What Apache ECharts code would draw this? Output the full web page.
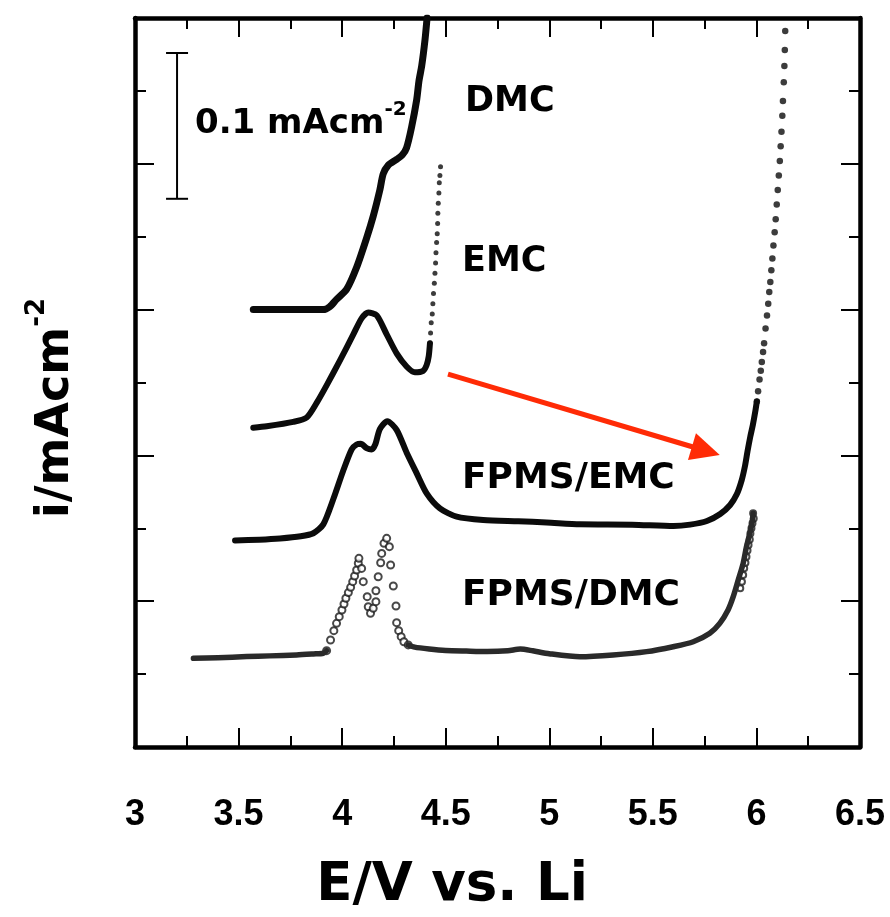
<!DOCTYPE html>
<html>
<head>
<meta charset="utf-8">
<title>i–E sweeps</title>
<script src="https://cdn.jsdelivr.net/npm/echarts@6/dist/echarts.min.js"></script>
<style>
  html, body { margin: 0; padding: 0; background: #fff; }
  #chart { width: 890px; height: 917px; }
</style>
</head>
<body>
<div id="chart"></div>
<script>
// Each sweep: [E / V vs. Li, i / mA cm^-2 (curves stacked with vertical offsets)]
const dmcCurve = [
  [3.571, 0.300], [3.700, 0.300], [3.800, 0.300], [3.909, 0.300], [3.940, 0.302],
  [3.973, 0.307], [4.022, 0.314], [4.070, 0.329], [4.118, 0.349], [4.150, 0.364],
  [4.182, 0.382], [4.198, 0.393], [4.222, 0.399], [4.263, 0.403], [4.290, 0.406],
  [4.311, 0.411], [4.335, 0.425], [4.360, 0.444], [4.371, 0.457], [4.384, 0.467],
  [4.400, 0.485], [4.410, 0.500]
];

const emcCurve = [
  [3.571, 0.219], [3.636, 0.220], [3.764, 0.223], [3.829, 0.226], [3.877, 0.236],
  [3.925, 0.248], [3.989, 0.265], [4.054, 0.283], [4.094, 0.294], [4.126, 0.298],
  [4.167, 0.296], [4.215, 0.283], [4.263, 0.270], [4.311, 0.261], [4.351, 0.257],
  [4.391, 0.258], [4.408, 0.262], [4.418, 0.268], [4.424, 0.277]
];

const emcTailDots = [
  [4.424, 0.277], [4.427, 0.284], [4.430, 0.291],
  [4.435, 0.297], [4.438, 0.304], [4.441, 0.311], [4.445, 0.318], [4.448, 0.325],
  [4.451, 0.332], [4.453, 0.339], [4.456, 0.346], [4.459, 0.352], [4.461, 0.359],
  [4.462, 0.366], [4.464, 0.373], [4.467, 0.380], [4.469, 0.387], [4.472, 0.392],
  [4.475, 0.398]
];

const fpmsEmcCurve = [
  [3.483, 0.1417], [3.600, 0.1422], [3.700, 0.1430], [3.800, 0.1445], [3.861, 0.1466],
  [3.909, 0.1527], [3.957, 0.1699], [4.005, 0.1895], [4.046, 0.2042], [4.070, 0.2075],
  [4.090, 0.2080], [4.118, 0.2050], [4.142, 0.2040], [4.160, 0.2075], [4.182, 0.2180],
  [4.218, 0.2235], [4.263, 0.2175], [4.311, 0.2020], [4.360, 0.1877], [4.408, 0.1740],
  [4.472, 0.1637], [4.553, 0.1580], [4.681, 0.1557], [4.850, 0.1548], [4.987, 0.1540],
  [5.148, 0.1527], [5.400, 0.1525], [5.600, 0.1515], [5.680, 0.1525], [5.761, 0.1550],
  [5.825, 0.1598], [5.873, 0.1660], [5.905, 0.1733], [5.929, 0.1831], [5.945, 0.1929],
  [5.957, 0.2028], [5.970, 0.2126], [5.983, 0.2211], [5.994, 0.2297], [6.002, 0.2370]
];

const fpmsEmcTailDots = [
  [6.002, 0.237], [6.008, 0.244], [6.015, 0.252], [6.021, 0.258], [6.026, 0.264],
  [6.032, 0.271], [6.037, 0.277], [6.044, 0.287], [6.051, 0.296], [6.057, 0.304],
  [6.062, 0.312], [6.067, 0.319], [6.072, 0.327], [6.077, 0.335], [6.082, 0.344],
  [6.088, 0.353], [6.093, 0.362], [6.098, 0.372], [6.103, 0.382], [6.108, 0.392],
  [6.113, 0.402], [6.117, 0.412], [6.121, 0.422], [6.125, 0.433], [6.128, 0.443],
  [6.132, 0.456], [6.135, 0.467], [6.137, 0.478], [6.139, 0.491]
];

const fpmsDmcStart = [
  [3.282, 0.0608], [3.400, 0.0612], [3.539, 0.0620], [3.650, 0.0625], [3.780, 0.0631],
  [3.861, 0.0638], [3.909, 0.0643], [3.925, 0.0661]
];

const fpmsDmcPeakCircles = [
  [3.925, 0.0661], [3.944, 0.0734], [3.960, 0.0798], [3.973, 0.0848], [3.986, 0.0894],
  [3.999, 0.0940], [4.009, 0.0981], [4.018, 0.1020], [4.030, 0.1059], [4.041, 0.1095],
  [4.051, 0.1134], [4.060, 0.1173], [4.070, 0.1214], [4.078, 0.1260], [4.081, 0.1294],
  [4.094, 0.1225], [4.102, 0.1134], [4.121, 0.1031], [4.126, 0.0962], [4.137, 0.0917],
  [4.150, 0.0951], [4.163, 0.0997], [4.163, 0.1072], [4.174, 0.1168], [4.186, 0.1264],
  [4.191, 0.1328], [4.202, 0.1397], [4.215, 0.1431], [4.228, 0.1374], [4.234, 0.1248],
  [4.247, 0.1104], [4.260, 0.0967], [4.263, 0.0853], [4.273, 0.0798], [4.285, 0.0757],
  [4.298, 0.0722], [4.319, 0.0700]
];

const fpmsDmcEnd = [
  [4.319, 0.0700], [4.350, 0.0685], [4.420, 0.0672], [4.500, 0.0662], [4.600, 0.0658],
  [4.700, 0.0655], [4.800, 0.0660], [4.860, 0.0672], [4.920, 0.0660], [5.000, 0.0640],
  [5.148, 0.0619], [5.308, 0.0631], [5.470, 0.0654], [5.598, 0.0688], [5.695, 0.0722],
  [5.775, 0.0780], [5.823, 0.0848], [5.863, 0.0940], [5.888, 0.1031], [5.912, 0.1145],
  [5.936, 0.1260], [5.952, 0.1374], [5.968, 0.1466], [5.981, 0.1557], [5.984, 0.1603]
];

const fpmsDmcTailCircles = [
  [5.922, 0.1088], [5.930, 0.1134], [5.936, 0.1180], [5.941, 0.1226], [5.947, 0.1264],
  [5.952, 0.1305], [5.957, 0.1347], [5.962, 0.1385], [5.968, 0.1424], [5.971, 0.1465],
  [5.976, 0.1500], [5.981, 0.1534], [5.987, 0.1568], [5.984, 0.1603]
];

// Axis ticks
const xTickValues = [3, 3.5, 4, 4.5, 5, 5.5, 6, 6.5];
const xTickLabels = ['3', '3.5', '4', '4.5', '5', '5.5', '6', '6.5'];
const yRange = [0, 0.5];

// Annotations (data coordinates)
const scaleBar = [[3.203, 0.376, 0.476]];           // E, i from, i to (0.1 mA cm^-2)
const arrowLine = [[4.511, 0.2558, 5.823, 0.2003]];  // tail E, tail i, tip E, tip i

const curveLabels = ['DMC', 'EMC', 'FPMS/EMC', 'FPMS/DMC'];

const ink = '#0b0b0b';
const labelFont = '"DejaVu Sans", sans-serif';
const tickFont = '"Liberation Sans", Arial, sans-serif';

const chart = echarts.init(document.getElementById('chart'));

const frameLine = { show: true, onZero: false, lineStyle: { color: '#000', width: 4.5 } };

function xAxisDef(pos, showLabels) {
  return {
    type: 'value', position: pos, min: xTickValues[0], max: xTickValues[xTickValues.length - 1],
    interval: 0.5,
    axisLine: frameLine,
    axisTick: { show: true, inside: true, length: 19, lineStyle: { color: '#000', width: 2 } },
    minorTick: { show: true, splitNumber: 2, length: 11, lineStyle: { color: '#000', width: 2 } },
    splitLine: { show: false },
    axisLabel: {
      show: showLabels, margin: 50, color: '#000', fontFamily: tickFont, fontWeight: 'bold', fontSize: 36,
      showMinLabel: true, showMaxLabel: true,
      formatter: v => {
        const i = xTickValues.findIndex(t => Math.abs(t - v) < 1e-6);
        return i >= 0 ? xTickLabels[i] : '';
      }
    }
  };
}

function yAxisDef(pos) {
  return {
    type: 'value', position: pos, min: yRange[0], max: yRange[1], interval: 0.1,
    axisLine: frameLine,
    axisTick: { show: true, inside: true, length: 19, lineStyle: { color: '#000', width: 2 } },
    minorTick: { show: true, splitNumber: 2, length: 11, lineStyle: { color: '#000', width: 2 } },
    splitLine: { show: false },
    axisLabel: { show: false }
  };
}

function lineSeries(name, data, width, color) {
  return {
    name, type: 'line', data, xAxisIndex: 0, yAxisIndex: 0,
    showSymbol: false, smooth: 0.25, clip: true, silent: true,
    lineStyle: { color, width, cap: 'round', join: 'round' }
  };
}

function dotSeries(name, data, size) {
  return {
    name, type: 'scatter', data, xAxisIndex: 0, yAxisIndex: 0, silent: true,
    symbol: 'circle', symbolSize: size, itemStyle: { color: ink }
  };
}

function ringSeries(name, data, size) {
  return {
    name, type: 'scatter', data, xAxisIndex: 0, yAxisIndex: 0, silent: true,
    symbol: 'emptyCircle', symbolSize: size,
    itemStyle: { color: '#1a1a1a', borderColor: '#1a1a1a', borderWidth: 1.6 }
  };
}

function supText(x, y, main, sup, size, supSize, rot) {
  return {
    type: 'text', x, y, rotation: rot || 0, silent: true,
    style: {
      text: '{a|' + main + '}{b|' + sup + '}',
      align: rot ? 'center' : 'left', verticalAlign: 'middle',
      rich: {
        a: { fontFamily: labelFont, fontWeight: 'bold', fontSize: size, lineHeight: Math.round(size * 1.4), fill: '#000' },
        b: { fontFamily: labelFont, fontWeight: 'bold', fontSize: supSize, lineHeight: supSize, verticalAlign: 'top', fill: '#000' }
      }
    }
  };
}

function plainText(x, y, text, size) {
  return {
    type: 'text', x, y, silent: true,
    style: { text, fontFamily: labelFont, fontWeight: 'bold', fontSize: size, fill: '#000',
             align: 'left', verticalAlign: 'middle' }
  };
}

const option = {
  animation: false,
  backgroundColor: '#fff',
  grid: { left: 135, right: 30, top: 18, bottom: 170, containLabel: false },
  xAxis: [xAxisDef('bottom', true), xAxisDef('top', false)],
  yAxis: [yAxisDef('left'), yAxisDef('right')],
  series: [
    lineSeries('DMC', dmcCurve, 7, ink),
    lineSeries('EMC', emcCurve, 6, ink),
    dotSeries('EMC tail', emcTailDots, 5),
    lineSeries('FPMS/EMC', fpmsEmcCurve, 6, ink),
    dotSeries('FPMS/EMC tail', fpmsEmcTailDots, 6.5),
    lineSeries('FPMS/DMC start', fpmsDmcStart, 5.5, '#2a2a2a'),
    lineSeries('FPMS/DMC end', fpmsDmcEnd, 5.5, '#2a2a2a'),
    ringSeries('FPMS/DMC peaks', fpmsDmcPeakCircles, 7),
    ringSeries('FPMS/DMC tail', fpmsDmcTailCircles, 6),
    {
      name: 'scale bar', type: 'custom', data: scaleBar, silent: true,
      encode: { x: 0, y: [1, 2] },
      renderItem: (params, api) => {
        const lo = api.coord([api.value(0), api.value(1)]);
        const hi = api.coord([api.value(0), api.value(2)]);
        const s = { stroke: '#000', lineWidth: 2 };
        return {
          type: 'group', children: [
            { type: 'line', shape: { x1: lo[0], y1: lo[1], x2: hi[0], y2: hi[1] }, style: s },
            { type: 'line', shape: { x1: hi[0] - 11, y1: hi[1], x2: hi[0] + 11, y2: hi[1] }, style: s },
            { type: 'line', shape: { x1: lo[0] - 11, y1: lo[1], x2: lo[0] + 11, y2: lo[1] }, style: s }
          ]
        };
      }
    },
    {
      name: 'arrow', type: 'custom', data: arrowLine, silent: true,
      encode: { x: [0, 2], y: [1, 3] },
      renderItem: (params, api) => {
        const a = api.coord([api.value(0), api.value(1)]);
        const b = api.coord([api.value(2), api.value(3)]);
        const dx = b[0] - a[0], dy = b[1] - a[1];
        const len = Math.hypot(dx, dy);
        const ux = dx / len, uy = dy / len;
        const headLen = 29, headHalf = 14;
        const bx = b[0] - ux * headLen, by = b[1] - uy * headLen;
        const red = '#ff2b06';
        return {
          type: 'group', children: [
            { type: 'line', shape: { x1: a[0], y1: a[1], x2: bx + ux * 2, y2: by + uy * 2 },
              style: { stroke: red, lineWidth: 5 } },
            { type: 'polygon', shape: { points: [
                [b[0], b[1]],
                [bx - uy * headHalf, by + ux * headHalf],
                [bx + uy * headHalf, by - ux * headHalf]
              ] }, style: { fill: red } }
          ]
        };
      }
    }
  ],
  graphic: [
    supText(195, 124, '0.1 mAcm', '-2', 34, 20),
    plainText(465, 102, curveLabels[0], 35),
    plainText(462, 262, curveLabels[1], 35),
    plainText(462, 479, curveLabels[2], 36),
    plainText(462, 596, curveLabels[3], 36),
    supText(56, 408, 'i/mAcm', '-2', 46, 26, Math.PI / 2),
    {
      type: 'text', x: 452, y: 886, silent: true,
      style: { text: 'E/V vs. Li', fontFamily: labelFont, fontWeight: 'bold', fontSize: 53,
               fill: '#000', align: 'center', verticalAlign: 'middle' }
    }
  ]
};

chart.setOption(option);
</script>
</body>
</html>
